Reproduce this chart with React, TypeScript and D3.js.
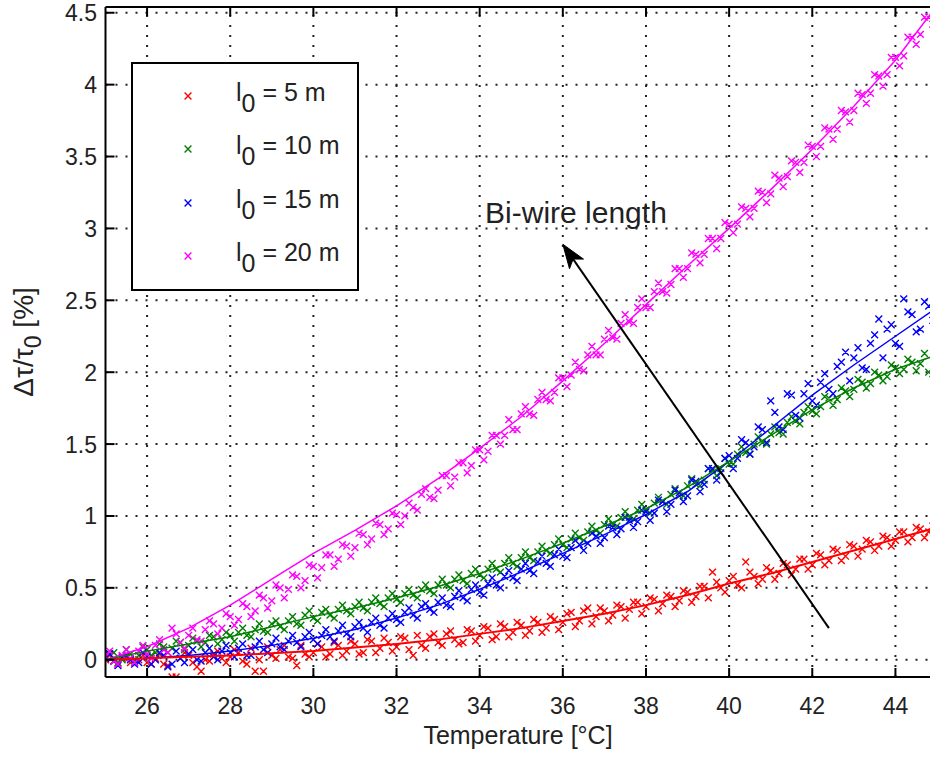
import React from "react";
import * as d3 from "d3";

// ---------- data ----------
const X_TICKS = [26, 28, 30, 32, 34, 36, 38, 40, 42, 44];
const Y_TICKS = [0, 0.5, 1, 1.5, 2, 2.5, 3, 3.5, 4, 4.5];
const Y_TICK_LABELS = ["0", "0.5", "1", "1.5", "2", "2.5", "3", "3.5", "4", "4.5"];

// measurement temperatures, run A
const T_SAMPLES_A = [
  25.0, 25.2, 25.4, 25.6, 25.8,
  26.0, 26.2, 26.4, 26.6, 26.8,
  27.0, 27.2, 27.4, 27.6, 27.8,
  28.0, 28.2, 28.4, 28.6, 28.8,
  29.0, 29.2, 29.4, 29.6, 29.8,
  30.0, 30.2, 30.4, 30.6, 30.8,
  31.0, 31.2, 31.4, 31.6, 31.8,
  32.0, 32.2, 32.4, 32.6, 32.8,
  33.0, 33.2, 33.4, 33.6, 33.8,
  34.0, 34.2, 34.4, 34.6, 34.8,
  35.0, 35.2, 35.4, 35.6, 35.8,
  36.0, 36.2, 36.4, 36.6, 36.8,
  37.0, 37.2, 37.4, 37.6, 37.8,
  38.0, 38.2, 38.4, 38.6, 38.8,
  39.0, 39.2, 39.4, 39.6, 39.8,
  40.0, 40.2, 40.4, 40.6, 40.8,
  41.0, 41.2, 41.4, 41.6, 41.8,
  42.0, 42.2, 42.4, 42.6, 42.8,
  43.0, 43.2, 43.4, 43.6, 43.8,
  44.0, 44.2, 44.4, 44.6, 44.8,
];

// measurement temperatures, run B
const T_SAMPLES_B = [
  25.1, 25.3, 25.5, 25.7, 25.9,
  26.1, 26.3, 26.5, 26.7, 26.9,
  27.1, 27.3, 27.5, 27.7, 27.9,
  28.1, 28.3, 28.5, 28.7, 28.9,
  29.1, 29.3, 29.5, 29.7, 29.9,
  30.1, 30.3, 30.5, 30.7, 30.9,
  31.1, 31.3, 31.5, 31.7, 31.9,
  32.1, 32.3, 32.5, 32.7, 32.9,
  33.1, 33.3, 33.5, 33.7, 33.9,
  34.1, 34.3, 34.5, 34.7, 34.9,
  35.1, 35.3, 35.5, 35.7, 35.9,
  36.1, 36.3, 36.5, 36.7, 36.9,
  37.1, 37.3, 37.5, 37.7, 37.9,
  38.1, 38.3, 38.5, 38.7, 38.9,
  39.1, 39.3, 39.5, 39.7, 39.9,
  40.1, 40.3, 40.5, 40.7, 40.9,
  41.1, 41.3, 41.5, 41.7, 41.9,
  42.1, 42.3, 42.5, 42.7, 42.9,
  43.1, 43.3, 43.5, 43.7, 43.9,
  44.1, 44.3, 44.5, 44.7, 44.9,
];

const RED_VALUES_A = [
  0.00, -0.01, 0.01, -0.02, 0.00,
  -0.02, 0.01, -0.03, -0.12, 0.01,
  0.03, -0.05, 0.00, 0.04, 0.01,
  0.02, 0.05, -0.03, -0.08, -0.08,
  0.03, 0.07, 0.02, -0.04, 0.04,
  0.05, 0.09, 0.04, 0.10, 0.06,
  0.11, 0.05, 0.13, 0.08, 0.12,
  0.09, 0.15, 0.03, 0.10, 0.16,
  0.12, 0.18, 0.14, 0.12, 0.20,
  0.17, 0.22, 0.16, 0.23, 0.19,
  0.24, 0.20, 0.26, 0.22, 0.28,
  0.26, 0.33, 0.27, 0.36, 0.30,
  0.34, 0.31, 0.37, 0.35, 0.40,
  0.37, 0.42, 0.39, 0.44, 0.41,
  0.47, 0.44, 0.51, 0.61, 0.50,
  0.55, 0.52, 0.68, 0.58, 0.56,
  0.62, 0.60, 0.66, 0.63, 0.70,
  0.66, 0.73, 0.69, 0.76, 0.72,
  0.79, 0.77, 0.82, 0.79, 0.85,
  0.83, 0.89, 0.85, 0.91, 0.89,
];
const RED_VALUES_B = [
  0.03, -0.03, 0.02, -0.02, 0.03,
  -0.03, 0.04, -0.04, -0.12, 0.05,
  -0.02, -0.08, -0.01, 0.06, -0.02,
  0.07, -0.01, 0.08, 0.00, 0.09,
  0.01, 0.10, 0.01, 0.10, 0.02,
  0.11, 0.02, 0.12, 0.03, 0.13,
  0.04, 0.14, 0.05, 0.15, 0.06,
  0.16, 0.07, 0.17, 0.08, 0.18,
  0.10, 0.20, 0.11, 0.21, 0.13,
  0.23, 0.14, 0.25, 0.16, 0.26,
  0.17, 0.28, 0.19, 0.30, 0.21,
  0.32, 0.23, 0.34, 0.25, 0.36,
  0.27, 0.38, 0.29, 0.40, 0.32,
  0.43, 0.34, 0.45, 0.37, 0.48,
  0.40, 0.51, 0.43, 0.54, 0.47,
  0.58, 0.50, 0.61, 0.53, 0.64,
  0.56, 0.67, 0.59, 0.70, 0.63,
  0.74, 0.66, 0.77, 0.69, 0.80,
  0.72, 0.83, 0.76, 0.86, 0.79,
  0.89, 0.82, 0.92, 0.85, 0.93,
];

const GREEN_VALUES_A = [
  0.01, 0.05, 0.00, 0.04, 0.03,
  0.07, 0.05, 0.09, 0.08, 0.12,
  0.10, 0.13, 0.12, 0.16, 0.14,
  0.17, 0.19, 0.17, 0.21, 0.20,
  0.25, 0.23, 0.27, 0.25, 0.31,
  0.29, 0.33, 0.31, 0.35, 0.34,
  0.37, 0.36, 0.40, 0.39, 0.43,
  0.42, 0.46, 0.45, 0.49, 0.48,
  0.52, 0.52, 0.56, 0.55, 0.60,
  0.59, 0.63, 0.63, 0.67, 0.67,
  0.71, 0.71, 0.75, 0.76, 0.80,
  0.80, 0.84, 0.85, 0.89, 0.90,
  0.94, 0.94, 0.99, 0.99, 1.04,
  1.04, 1.09, 1.10, 1.15, 1.14,
  1.21, 1.22, 1.25, 1.32, 1.33,
  1.36, 1.43, 1.44, 1.50, 1.51,
  1.57, 1.58, 1.65, 1.66, 1.72,
  1.73, 1.76, 1.82, 1.81, 1.87,
  1.88, 1.93, 1.92, 1.98, 1.97,
  2.03, 2.02, 2.07, 2.06, 2.00,
];
const GREEN_VALUES_B = [
  0.04, -0.02, 0.07, 0.00, 0.09,
  0.03, 0.11, 0.05, 0.13, 0.07,
  0.15, 0.09, 0.17, 0.11, 0.19,
  0.13, 0.22, 0.16, 0.25, 0.19,
  0.27, 0.21, 0.30, 0.24, 0.34,
  0.27, 0.35, 0.29, 0.38, 0.32,
  0.40, 0.34, 0.43, 0.37, 0.46,
  0.40, 0.49, 0.43, 0.52, 0.46,
  0.56, 0.50, 0.59, 0.53, 0.63,
  0.57, 0.67, 0.61, 0.71, 0.65,
  0.75, 0.69, 0.79, 0.74, 0.84,
  0.78, 0.88, 0.83, 0.93, 0.88,
  0.98, 0.93, 1.03, 0.98, 1.08,
  1.02, 1.13, 1.08, 1.19, 1.14,
  1.26, 1.21, 1.33, 1.28, 1.40,
  1.36, 1.48, 1.43, 1.55, 1.50,
  1.62, 1.57, 1.69, 1.64, 1.76,
  1.71, 1.83, 1.77, 1.89, 1.83,
  1.95, 1.89, 2.00, 1.94, 2.05,
  1.99, 2.09, 2.01, 2.13, 1.99,
];

const BLUE_VALUES_A = [
  0.01, -0.01, 0.02, 0.00, -0.02,
  0.02, 0.00, 0.03, -0.03, 0.01,
  0.04, 0.00, 0.05, 0.02, 0.06,
  0.05, 0.08, 0.03, 0.09, 0.07,
  0.11, 0.09, 0.13, 0.12, 0.16,
  0.14, 0.17, 0.16, 0.20, 0.18,
  0.23, 0.22, 0.26, 0.24, 0.29,
  0.28, 0.33, 0.31, 0.37, 0.35,
  0.40, 0.38, 0.44, 0.43, 0.49,
  0.47, 0.53, 0.52, 0.58, 0.57,
  0.63, 0.62, 0.68, 0.67, 0.73,
  0.72, 0.78, 0.80, 0.81, 0.86,
  0.85, 0.92, 0.91, 0.97, 0.96,
  1.03, 1.02, 1.10, 1.08, 1.16,
  1.14, 1.24, 1.22, 1.33, 1.30,
  1.42, 1.40, 1.51, 1.48, 1.60,
  1.80, 1.62, 1.85, 1.70, 1.85,
  1.80, 1.93, 1.88, 2.04, 2.14,
  2.10, 2.03, 2.20, 2.37, 2.30,
  2.20, 2.51, 2.40, 2.30, 2.46,
];
const BLUE_VALUES_B = [
  0.04, -0.04, 0.03, -0.03, 0.05,
  -0.03, 0.05, -0.05, 0.06, -0.02,
  0.07, -0.01, 0.08, 0.00, 0.10,
  0.02, 0.11, 0.03, 0.13, 0.05,
  0.15, 0.07, 0.17, 0.09, 0.19,
  0.11, 0.21, 0.13, 0.24, 0.16,
  0.26, 0.19, 0.29, 0.22, 0.32,
  0.26, 0.36, 0.29, 0.39, 0.33,
  0.43, 0.37, 0.48, 0.41, 0.52,
  0.45, 0.57, 0.50, 0.62, 0.55,
  0.67, 0.60, 0.72, 0.65, 0.77,
  0.71, 0.83, 0.76, 0.88, 0.81,
  0.93, 0.87, 0.99, 0.92, 1.04,
  0.97, 1.11, 1.03, 1.18, 1.10,
  1.25, 1.17, 1.33, 1.25, 1.40,
  1.33, 1.53, 1.43, 1.62, 1.51,
  1.72, 1.60, 1.84, 1.68, 1.92,
  1.77, 1.99, 1.85, 2.07, 1.94,
  2.17, 2.02, 2.26, 2.10, 2.33,
  2.18, 2.42, 2.28, 2.49, 2.36,
];

const MAGENTA_VALUES_A = [
  0.02, -0.01, 0.03, 0.01, 0.06,
  0.04, 0.10, 0.07, 0.22, 0.12,
  0.17, 0.14, 0.21, 0.25, 0.22,
  0.30, 0.28, 0.37, 0.34, 0.43,
  0.41, 0.50, 0.49, 0.58, 0.55,
  0.65, 0.64, 0.73, 0.70, 0.79,
  0.78, 0.87, 0.84, 0.94, 0.91,
  1.01, 1.00, 1.06, 1.15, 1.13,
  1.18, 1.28, 1.27, 1.37, 1.35,
  1.46, 1.45, 1.56, 1.56, 1.60,
  1.71, 1.71, 1.81, 1.81, 1.86,
  1.96, 1.98, 2.02, 2.12, 2.12,
  2.23, 2.24, 2.34, 2.35, 2.45,
  2.45, 2.56, 2.56, 2.61, 2.72,
  2.72, 2.82, 2.82, 2.93, 2.93,
  3.03, 3.03, 3.14, 3.14, 3.25,
  3.24, 3.35, 3.36, 3.46, 3.46,
  3.57, 3.57, 3.69, 3.69, 3.81,
  3.82, 3.93, 3.94, 4.06, 4.07,
  4.19, 4.20, 4.33, 4.35, 4.47,
];
const MAGENTA_VALUES_B = [
  0.06, -0.03, 0.07, -0.02, 0.10,
  0.01, 0.14, 0.05, 0.18, 0.08,
  0.22, 0.13, 0.27, 0.18, 0.32,
  0.24, 0.39, 0.30, 0.45, 0.36,
  0.52, 0.43, 0.59, 0.50, 0.66,
  0.57, 0.73, 0.65, 0.80, 0.72,
  0.88, 0.80, 0.95, 0.87, 1.02,
  0.94, 1.09, 1.04, 1.19, 1.12,
  1.28, 1.21, 1.37, 1.30, 1.46,
  1.39, 1.56, 1.50, 1.67, 1.60,
  1.76, 1.70, 1.86, 1.80, 1.96,
  1.90, 2.07, 2.01, 2.18, 2.12,
  2.29, 2.23, 2.40, 2.34, 2.51,
  2.45, 2.62, 2.55, 2.72, 2.66,
  2.83, 2.76, 2.93, 2.86, 3.04,
  2.97, 3.15, 3.08, 3.26, 3.18,
  3.37, 3.29, 3.47, 3.39, 3.58,
  3.50, 3.70, 3.62, 3.82, 3.74,
  3.94, 3.87, 4.07, 3.99, 4.19,
  4.13, 4.33, 4.28, 4.47, 4.42,
];

const FIT_T = [25, 26, 27, 28, 29, 30, 31, 32, 33, 34, 35, 36, 37, 38, 39, 40, 41, 42, 43, 44, 45];
const RED_FIT = [0, 0.01, 0.02, 0.03, 0.045, 0.06, 0.085, 0.11, 0.14, 0.18, 0.22, 0.27, 0.32, 0.38, 0.45, 0.53, 0.6, 0.68, 0.76, 0.84, 0.92];
const GREEN_FIT = [0, 0.06, 0.11, 0.16, 0.23, 0.3, 0.36, 0.43, 0.51, 0.6, 0.7, 0.81, 0.93, 1.05, 1.2, 1.38, 1.56, 1.74, 1.89, 2.02, 2.12];
const BLUE_FIT = [0, 0.01, 0.03, 0.06, 0.1, 0.15, 0.21, 0.29, 0.38, 0.49, 0.61, 0.74, 0.87, 1.01, 1.17, 1.38, 1.61, 1.84, 2.05, 2.25, 2.45];
const MAGENTA_FIT = [0, 0.09, 0.22, 0.38, 0.56, 0.74, 0.9, 1.07, 1.26, 1.47, 1.69, 1.94, 2.2, 2.47, 2.74, 3.0, 3.27, 3.55, 3.85, 4.17, 4.55];

const SERIES_LABELS = ["5", "10", "15", "20"];
const SERIES_COLORS = ["#ff0000", "#007f00", "#0000ff", "#ff00ff"];
const SERIES_VALUES_A = [RED_VALUES_A, GREEN_VALUES_A, BLUE_VALUES_A, MAGENTA_VALUES_A];
const SERIES_VALUES_B = [RED_VALUES_B, GREEN_VALUES_B, BLUE_VALUES_B, MAGENTA_VALUES_B];
const SERIES_FITS = [RED_FIT, GREEN_FIT, BLUE_FIT, MAGENTA_FIT];

const ARROW_FROM = [42.4, 0.22];
const ARROW_TO = [36.0, 2.89];
const ANNOTATION = { text: "Bi-wire length", t: 34.13, v: 3.04 };

// ---------- layout ----------
const W = 930;
const H = 764;
const X0 = 105.5, X1 = 937, Y0 = 677, Y1 = 7;
const FONT = "'Liberation Sans', Arial, Helvetica, sans-serif";

export default function App() {
  const x = d3.scaleLinear().domain([25, 45]).range([X0, X1]);
  const y = d3.scaleLinear().domain([-0.12, 4.54]).range([Y0, Y1]);
  const line = d3
    .line<number>()
    .x((_, i) => x(FIT_T[i]))
    .y((d) => y(d));

  const ms = 3.4;
  const cross = (cx: number, cy: number) =>
    `M${cx - ms},${cy - ms}L${cx + ms},${cy + ms}M${cx - ms},${cy + ms}L${cx + ms},${cy - ms}`;

  const markerPath = (ts: number[], vs: number[]) =>
    vs.map((v, i) => cross(x(ts[i]), y(v))).join("");

  // arrow
  const ax0 = x(ARROW_FROM[0]), ay0 = y(ARROW_FROM[1]);
  const ax1 = x(ARROW_TO[0]), ay1 = y(ARROW_TO[1]);
  const dx = ax1 - ax0, dy = ay1 - ay0;
  const len = Math.hypot(dx, dy);
  const ux = dx / len, uy = dy / len;
  const headL = 24, headW = 8.5;
  const bx = ax1 - ux * headL, by = ay1 - uy * headL;
  const head = `M${ax1},${ay1}L${bx - uy * headW},${by + ux * headW}L${ax1 - ux * headL * 0.75},${ay1 - uy * headL * 0.75}L${bx + uy * headW},${by - ux * headW}Z`;

  const legendX = 132, legendY = 63, legendW = 226, legendH = 227;
  const legendRowY = [96, 149, 203, 256];

  return (
    <svg
      width={W}
      height={H}
      style={{ position: "absolute", left: 0, top: 0, background: "#fff" }}
      fontFamily={FONT}
    >
      <defs>
        <clipPath id="plotClip">
          <rect x={X0} y={Y1} width={X1 - X0} height={Y0 - Y1} />
        </clipPath>
      </defs>
      <rect x={0} y={0} width={W} height={H} fill="#fff" />

      {/* grid */}
      <g stroke="#222" strokeWidth={2} strokeDasharray="2,8">
        {X_TICKS.map((t) => (
          <line key={"gx" + t} x1={x(t)} x2={x(t)} y1={Y0} y2={Y1} />
        ))}
        {Y_TICKS.map((t) => (
          <line key={"gy" + t} x1={X0} x2={X1} y1={y(t)} y2={y(t)} />
        ))}
      </g>

      {/* data */}
      <g clipPath="url(#plotClip)">
        {SERIES_COLORS.map((c, si) => (
          <path
            key={"s" + si}
            d={
              markerPath(T_SAMPLES_A, SERIES_VALUES_A[si]) +
              markerPath(T_SAMPLES_B, SERIES_VALUES_B[si])
            }
            stroke={c}
            strokeWidth={1.4}
            fill="none"
          />
        ))}
        {[3, 2, 1, 0].map((si) => (
          <path
            key={"f" + si}
            d={line(SERIES_FITS[si]) || ""}
            stroke={SERIES_COLORS[si]}
            strokeWidth={si === 0 ? 2 : 1.5}
            fill="none"
          />
        ))}
      </g>

      {/* ticks */}
      <g stroke="#000" strokeWidth={2}>
        {X_TICKS.map((t) => (
          <g key={"tx" + t}>
            <line x1={x(t)} x2={x(t)} y1={Y0} y2={Y0 - 9} />
            <line x1={x(t)} x2={x(t)} y1={Y1} y2={Y1 + 9} />
          </g>
        ))}
        {Y_TICKS.map((t) => (
          <line key={"ty" + t} x1={X0} x2={X0 + 9} y1={y(t)} y2={y(t)} />
        ))}
      </g>

      {/* axes frame */}
      <g stroke="#000" strokeWidth={2} fill="none">
        <line x1={X0} x2={X0} y1={Y1} y2={Y0} />
        <line x1={X0} x2={X1} y1={Y0} y2={Y0} />
        <line x1={X0} x2={X1} y1={Y1} y2={Y1} />
      </g>

      {/* tick labels */}
      <g fontSize={23} fill="#222">
        {X_TICKS.map((t) => (
          <text key={"lx" + t} x={x(t)} y={714} textAnchor="middle">
            {t}
          </text>
        ))}
        {Y_TICKS.map((t, i) => (
          <text key={"ly" + t} x={97} y={y(t) + 8.5} textAnchor="end">
            {Y_TICK_LABELS[i]}
          </text>
        ))}
      </g>

      {/* axis labels */}
      <text x={518} y={744} fontSize={25} textAnchor="middle" fill="#222">
        Temperature [°C]
      </text>
      <text
        transform={`translate(33,342) rotate(-90)`}
        fontSize={28}
        textAnchor="middle"
        fill="#222"
      >
        Δτ/τ<tspan dy={8} fontSize={23}>0</tspan>
        <tspan dy={-8}> [%]</tspan>
      </text>

      {/* arrow annotation */}
      <line x1={ax0} y1={ay0} x2={ax1 - ux * 12} y2={ay1 - uy * 12} stroke="#000" strokeWidth={2} />
      <path d={head} fill="#000" stroke="#000" strokeWidth={1} />
      <text x={x(ANNOTATION.t)} y={y(ANNOTATION.v)} fontSize={30} fill="#222">
        {ANNOTATION.text}
      </text>

      {/* legend */}
      <rect x={legendX} y={legendY} width={legendW} height={legendH} fill="#fff" stroke="#000" strokeWidth={2} />
      {SERIES_LABELS.map((lab, i) => (
        <g key={"lg" + i}>
          <path d={cross(188, legendRowY[i])} stroke={SERIES_COLORS[i]} strokeWidth={1.4} fill="none" />
          <text x={236} y={legendRowY[i] + 5} fontSize={25} fill="#222">
            l<tspan dy={11}>0</tspan>
            <tspan dy={-11}>{" = " + lab + " m"}</tspan>
          </text>
        </g>
      ))}
    </svg>
  );
}
